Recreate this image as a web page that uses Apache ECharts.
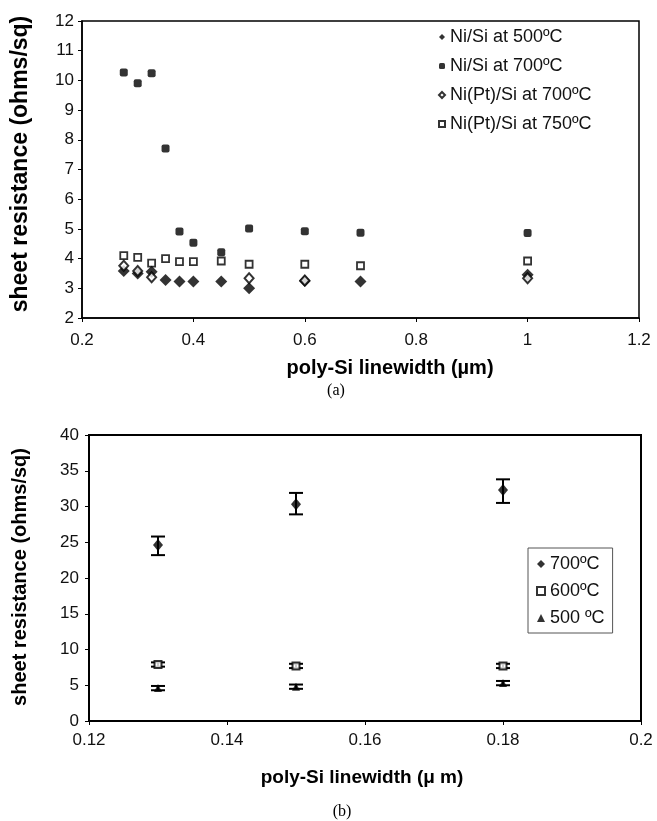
<!DOCTYPE html>
<html>
<head>
<meta charset="utf-8">
<script src="https://cdn.jsdelivr.net/npm/echarts@6/dist/echarts.min.js"></script>
<style>
  html, body { margin: 0; padding: 0; background: #fff; }
  #chart { width: 657px; height: 821px; }
</style>
</head>
<body>
<div id="chart"></div>
<script>
// panel (a) data
var widthsA = [0.275, 0.3, 0.325, 0.35, 0.375, 0.4, 0.45, 0.5, 0.6, 0.7, 1.0];
var niSi500 = [3.58, 3.50, 3.56, 3.28, 3.23, 3.23, 3.23, 3.00, 3.25, 3.23, 3.46];
var niSi700 = [10.27, 9.90, 10.24, 7.71, 4.91, 4.53, 4.21, 5.01, 4.92, 4.87, 4.86];
var niPt750 = [4.10, 4.04, 3.85, 4.00, 3.90, 3.90, 3.92, 3.81, 3.81, 3.76, 3.92];
var widthsPt700 = [0.275, 0.3, 0.325, 0.5, 0.6, 1.0];
var niPt700 = [3.76, 3.58, 3.37, 3.34, 3.26, 3.34];

// panel (b) data
var widthsB = [0.13, 0.15, 0.18];
var r700 = [24.6, 30.3, 32.3];
var r700Lo = [23.2, 28.9, 30.5];
var r700Hi = [25.8, 31.9, 33.8];
var r600 = [7.9, 7.7, 7.7];
var r600Lo = [7.6, 7.4, 7.4];
var r600Hi = [8.2, 8.0, 8.0];
var r500 = [4.6, 4.8, 5.3];
var r500Lo = [4.3, 4.5, 5.0];
var r500Hi = [4.9, 5.1, 5.6];

var namesA = ['Ni/Si at 500\u00baC', 'Ni/Si at 700\u00baC', 'Ni(Pt)/Si at 700\u00baC', 'Ni(Pt)/Si at 750\u00baC'];
var namesB = ['700\u00baC', '600\u00baC', '500 \u00baC'];

var FONT = '"Liberation Sans", Arial, sans-serif';

function pairs(xs, ys) {
  return xs.map(function (x, i) { return [x, ys[i]]; });
}
function bars(xs, lo, hi) {
  return xs.map(function (x, i) { return [x, lo[i], hi[i]]; });
}

function errorBar(params, api) {
  var x = api.value(0);
  var lo = api.coord([x, api.value(1)]);
  var hi = api.coord([x, api.value(2)]);
  var w = 7;
  var st = { stroke: '#000', lineWidth: 2 };
  return {
    type: 'group',
    children: [
      { type: 'line', shape: { x1: lo[0], y1: lo[1], x2: hi[0], y2: hi[1] }, style: st },
      { type: 'line', shape: { x1: lo[0] - w, y1: lo[1], x2: lo[0] + w, y2: lo[1] }, style: st },
      { type: 'line', shape: { x1: hi[0] - w, y1: hi[1], x2: hi[0] + w, y2: hi[1] }, style: st }
    ]
  };
}

var axisLine = { lineStyle: { color: '#000', width: 1.5 } };
var tick = { inside: false, length: 4, lineStyle: { color: '#000', width: 1 } };

var chart = echarts.init(document.getElementById('chart'));
chart.setOption({
  animation: false,
  backgroundColor: '#fff',
  grid: [
    { left: 82, top: 21, width: 557, height: 297, show: true, borderColor: '#000', borderWidth: 1.5, backgroundColor: 'transparent' },
    { left: 89, top: 435, width: 552, height: 286, show: true, borderColor: '#000', borderWidth: 2, backgroundColor: 'transparent' }
  ],
  xAxis: [
    {
      gridIndex: 0, type: 'value', min: 0.2, max: 1.2, interval: 0.2,
      axisLine: axisLine, axisTick: tick, splitLine: { show: false },
      axisLabel: { margin: 14, fontSize: 17, color: '#111', fontFamily: FONT }
    },
    {
      gridIndex: 1, type: 'value', min: 0.12, max: 0.2, interval: 0.02,
      axisLine: { lineStyle: { color: '#000', width: 2 } }, axisTick: tick, splitLine: { show: false },
      axisLabel: { margin: 11, fontSize: 17, color: '#111', fontFamily: FONT }
    }
  ],
  yAxis: [
    {
      gridIndex: 0, type: 'value', min: 2, max: 12, interval: 1,
      axisLine: axisLine, axisTick: tick, splitLine: { show: false },
      axisLabel: { margin: 8, fontSize: 17, color: '#111', fontFamily: FONT }
    },
    {
      gridIndex: 1, type: 'value', min: 0, max: 40, interval: 5,
      axisLine: { lineStyle: { color: '#000', width: 2 } }, axisTick: tick, splitLine: { show: false },
      axisLabel: { margin: 10, fontSize: 17, color: '#111', fontFamily: FONT }
    }
  ],
  legend: [
    {
      data: namesA, orient: 'vertical', left: 438, top: 28, padding: 0,
      itemGap: 11, itemWidth: 6, itemHeight: 6,
      textStyle: { fontSize: 18, color: '#111', fontFamily: FONT }
    },
    {
      data: namesB, orient: 'vertical', left: 528, top: 548,
      padding: [7, 8, 6, 8], itemGap: 9, itemWidth: 8, itemHeight: 8,
      borderColor: '#555', borderWidth: 1,
      textStyle: { fontSize: 18, color: '#111', fontFamily: FONT }
    }
  ],
  graphic: [
    { type: 'text', x: 21, y: 164, rotation: Math.PI / 2,
      style: { text: 'sheet resistance (ohms/sq)', font: 'bold 23px ' + FONT, fill: '#000', align: 'center', verticalAlign: 'middle' } },
    { type: 'text', x: 390, y: 368,
      style: { text: 'poly-Si linewidth (\u00b5m)', font: 'bold 20px ' + FONT, fill: '#000', align: 'center', verticalAlign: 'middle' } },
    { type: 'text', x: 336, y: 391,
      style: { text: '(a)', font: '16px "Liberation Serif", "Times New Roman", serif', fill: '#000', align: 'center', verticalAlign: 'middle' } },
    { type: 'text', x: 20, y: 577, rotation: Math.PI / 2,
      style: { text: 'sheet resistance (ohms/sq)', font: 'bold 20px ' + FONT, fill: '#000', align: 'center', verticalAlign: 'middle' } },
    { type: 'text', x: 362, y: 778,
      style: { text: 'poly-Si linewidth (\u03bc m)', font: 'bold 19px ' + FONT, fill: '#000', align: 'center', verticalAlign: 'middle' } },
    { type: 'text', x: 342, y: 812,
      style: { text: '(b)', font: '16px "Liberation Serif", "Times New Roman", serif', fill: '#000', align: 'center', verticalAlign: 'middle' } }
  ],
  series: [
    { name: namesA[3], type: 'scatter', xAxisIndex: 0, yAxisIndex: 0, symbol: 'rect', symbolSize: 7,
      itemStyle: { color: '#fff', borderColor: '#000', borderWidth: 1.8 }, data: pairs(widthsA, niPt750) },
    { name: namesA[0], type: 'scatter', xAxisIndex: 0, yAxisIndex: 0, symbol: 'diamond', symbolSize: [12, 12],
      itemStyle: { color: '#000' }, data: pairs(widthsA, niSi500) },
    { name: namesA[2], type: 'scatter', xAxisIndex: 0, yAxisIndex: 0, symbol: 'diamond', symbolSize: [9, 10],
      itemStyle: { color: '#fff', borderColor: '#000', borderWidth: 2 }, data: pairs(widthsPt700, niPt700) },
    { name: namesA[1], type: 'scatter', xAxisIndex: 0, yAxisIndex: 0, symbol: 'roundRect', symbolSize: 8,
      itemStyle: { color: '#000' }, data: pairs(widthsA, niSi700) },

    { type: 'custom', xAxisIndex: 1, yAxisIndex: 1, renderItem: errorBar, data: bars(widthsB, r700Lo, r700Hi), z: 1 },
    { type: 'custom', xAxisIndex: 1, yAxisIndex: 1, renderItem: errorBar, data: bars(widthsB, r600Lo, r600Hi), z: 1 },
    { type: 'custom', xAxisIndex: 1, yAxisIndex: 1, renderItem: errorBar, data: bars(widthsB, r500Lo, r500Hi), z: 1 },
    { name: namesB[0], type: 'scatter', xAxisIndex: 1, yAxisIndex: 1, symbol: 'diamond', symbolSize: [10, 12],
      itemStyle: { color: '#000' }, data: pairs(widthsB, r700), z: 3 },
    { name: namesB[1], type: 'scatter', xAxisIndex: 1, yAxisIndex: 1, symbol: 'rect', symbolSize: 7,
      itemStyle: { color: '#fff', borderColor: '#000', borderWidth: 2 }, data: pairs(widthsB, r600), z: 3 },
    { name: namesB[2], type: 'scatter', xAxisIndex: 1, yAxisIndex: 1, symbol: 'triangle', symbolSize: 8,
      itemStyle: { color: '#000' }, data: pairs(widthsB, r500), z: 3 }
  ]
});
</script>
</body>
</html>
